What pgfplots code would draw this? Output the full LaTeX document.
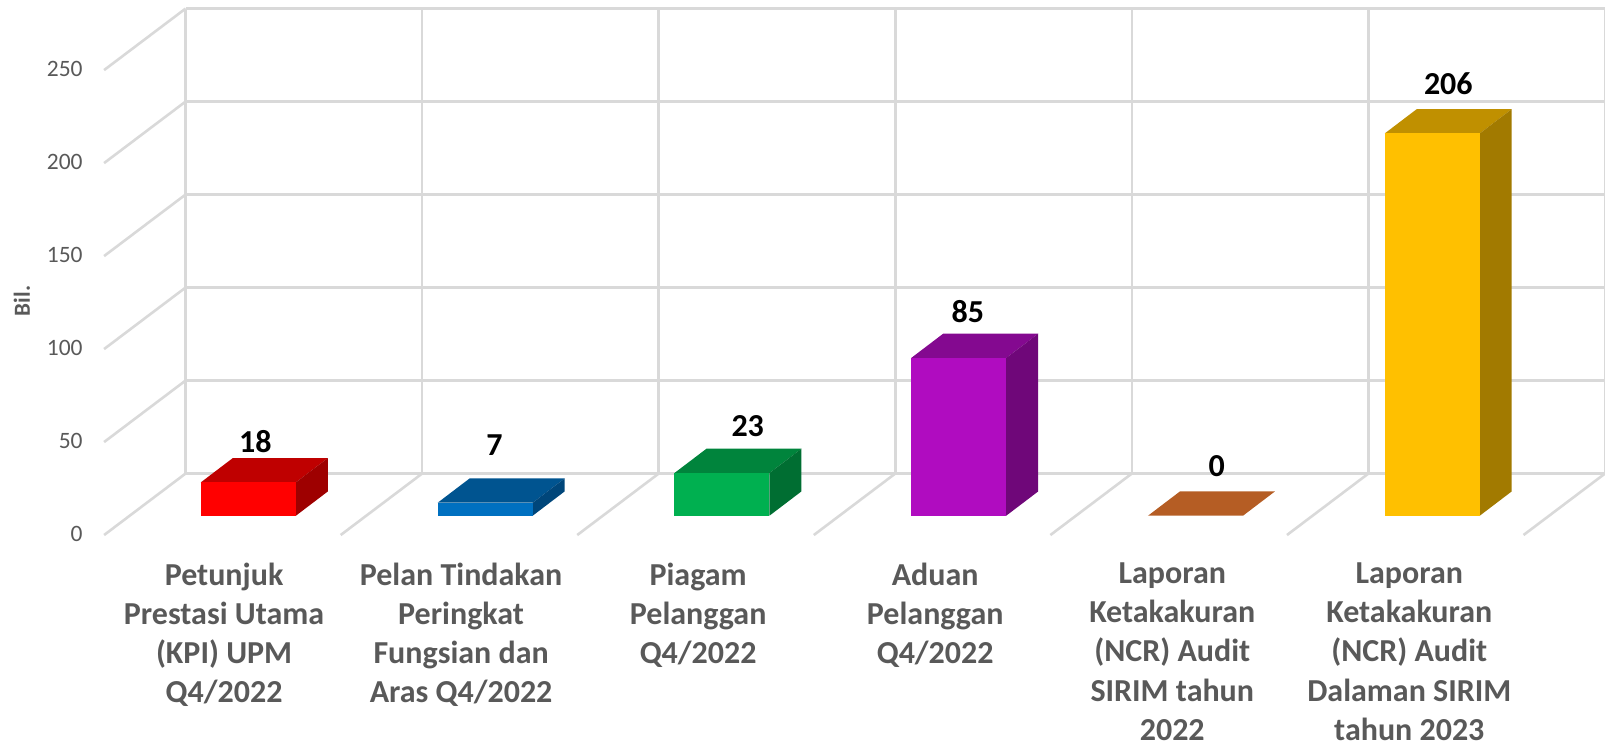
\documentclass[border=0pt]{standalone}
\usepackage{fontspec}
\setmainfont{Carlito}
\usepackage{pgfplots}
\pgfplotsset{compat=1.18}
\definecolor{gridc}{HTML}{D9D9D9}
\definecolor{txtc}{HTML}{595959}
\definecolor{rF}{HTML}{FF0000}\definecolor{rT}{HTML}{BF0000}\definecolor{rS}{HTML}{9E0000}
\definecolor{bF}{HTML}{0070C0}\definecolor{bT}{HTML}{005490}\definecolor{bS}{HTML}{00467A}
\definecolor{gF}{HTML}{00B050}\definecolor{gT}{HTML}{00843C}\definecolor{gS}{HTML}{006E32}
\definecolor{pF}{HTML}{B00CC0}\definecolor{pT}{HTML}{840990}\definecolor{pS}{HTML}{6F0779}
\definecolor{oT}{HTML}{B55D24}
\definecolor{yF}{HTML}{FFC000}\definecolor{yT}{HTML}{C09000}\definecolor{yS}{HTML}{A27A00}
\pgfplotsset{base/.style={at={(0,0)},anchor=south west,scale only axis,width=1605bp,height=745bp},
  gl/.style={draw=gridc,line width=2.6bp,mark=none,forget plot},
  bfront/.style={ybar,bar width=95bp,bar shift=0pt,draw=none,fill=#1,forget plot},
  poly/.style={draw=none,fill=#1,mark=none,forget plot}}
\begin{document}
\begin{tikzpicture}
% ---- walls, floor and tick labels: front plane of the depth box
\begin{axis}[base,xmin=-1.0524,xmax=5.7312,ymin=-112.9,ymax=287.63,
  axis line style={draw=none},major tick length=0pt,
  ytick={0,50,100,150,200,250},
  /pgf/number format/assume math mode=true,
  yticklabel style={anchor=east,xshift=86bp,yshift=1bp,text=txtc,font=\fontsize{23.5bp}{27bp}\selectfont},
  xtick={-0.1057,0.8963,1.8983,2.9003,3.9023,4.9043},
  xticklabels={{Petunjuk\\Prestasi Utama\\(KPI) UPM\\Q4/2022},
    {Pelan Tindakan\\Peringkat\\Fungsian dan\\Aras Q4/2022},
    {Piagam\\Pelanggan\\Q4/2022},
    {Aduan\\Pelanggan\\Q4/2022},
    {Laporan\\Ketakakuran\\(NCR) Audit\\SIRIM tahun\\2022},
    {Laporan\\Ketakakuran\\(NCR) Audit\\Dalaman SIRIM\\tahun 2023}},
  xticklabel style={anchor=north,align=center,inner sep=0pt,yshift=182.5bp,text=txtc,
    font=\fontsize{32bp}{39.2bp}\selectfont\bfseries},
  ylabel={Bil.},
  every axis y label/.style={at={(axis description cs:0.0135,0.596)},rotate=90,anchor=center,
    text=txtc,font=\fontsize{23bp}{27bp}\selectfont\bfseries},
]
% back wall horizontals
\addplot[gl] coordinates {(-0.2684,33.06)(5.8,33.06)};
\addplot[gl] coordinates {(-0.2684,83.06)(5.8,83.06)};
\addplot[gl] coordinates {(-0.2684,133.06)(5.8,133.06)};
\addplot[gl] coordinates {(-0.2684,183.06)(5.8,183.06)};
\addplot[gl] coordinates {(-0.2684,233.06)(5.8,233.06)};
\addplot[gl] coordinates {(-0.2684,283.06)(5.8,283.06)};
% back wall verticals
\addplot[gl] coordinates {(-0.2684,33.06)(-0.2684,283.06)};
\addplot[gl] coordinates {(0.7316,33.06)(0.7316,283.06)};
\addplot[gl] coordinates {(1.7316,33.06)(1.7316,283.06)};
\addplot[gl] coordinates {(2.7316,33.06)(2.7316,283.06)};
\addplot[gl] coordinates {(3.7316,33.06)(3.7316,283.06)};
\addplot[gl] coordinates {(4.7316,33.06)(4.7316,283.06)};
\addplot[gl] coordinates {(5.7316,33.06)(5.7316,283.06)};
% side wall diagonals
\addplot[gl] coordinates {(-0.6128,0)(-0.2684,33.06)};
\addplot[gl] coordinates {(-0.6128,50)(-0.2684,83.06)};
\addplot[gl] coordinates {(-0.6128,100)(-0.2684,133.06)};
\addplot[gl] coordinates {(-0.6128,150)(-0.2684,183.06)};
\addplot[gl] coordinates {(-0.6128,200)(-0.2684,233.06)};
\addplot[gl] coordinates {(-0.6128,250)(-0.2684,283.06)};
% floor diagonals
\addplot[gl] coordinates {(0.3872,0)(0.7316,33.06)};
\addplot[gl] coordinates {(1.3872,0)(1.7316,33.06)};
\addplot[gl] coordinates {(2.3872,0)(2.7316,33.06)};
\addplot[gl] coordinates {(3.3872,0)(3.7316,33.06)};
\addplot[gl] coordinates {(4.3872,0)(4.7316,33.06)};
\addplot[gl] coordinates {(5.3872,0)(5.7316,33.06)};
\end{axis}
% ---- bars
\begin{axis}[base,hide axis,xmin=-1.0486,xmax=5.7293,ymin=-123.54,ymax=277.86,clip=false]
% Petunjuk KPI: 18
\addplot[poly=rT] coordinates {(-0.2006,18)(0.2006,18)(0.3357,31.1)(-0.0655,31.1)} -- cycle;
\addplot[poly=rS] coordinates {(0.2006,0)(0.3357,13.1)(0.3357,31.1)(0.2006,18)} -- cycle;
\addplot[bfront=rF] coordinates {(0,18)};
% Pelan Tindakan: 7
\addplot[poly=bT] coordinates {(0.7994,7)(1.2006,7)(1.3357,20.1)(0.9345,20.1)} -- cycle;
\addplot[poly=bS] coordinates {(1.2006,0)(1.3357,13.1)(1.3357,20.1)(1.2006,7)} -- cycle;
\addplot[bfront=bF] coordinates {(1,7)};
% Piagam: 23
\addplot[poly=gT] coordinates {(1.7994,23)(2.2006,23)(2.3357,36.1)(1.9345,36.1)} -- cycle;
\addplot[poly=gS] coordinates {(2.2006,0)(2.3357,13.1)(2.3357,36.1)(2.2006,23)} -- cycle;
\addplot[bfront=gF] coordinates {(2,23)};
% Aduan: 85
\addplot[poly=pT] coordinates {(2.7994,85)(3.2006,85)(3.3357,98.1)(2.9345,98.1)} -- cycle;
\addplot[poly=pS] coordinates {(3.2006,0)(3.3357,13.1)(3.3357,98.1)(3.2006,85)} -- cycle;
\addplot[bfront=pF] coordinates {(3,85)};
% NCR SIRIM 2022: 0
\addplot[poly=oT] coordinates {(3.7994,0)(4.2006,0)(4.3357,13.1)(3.9345,13.1)} -- cycle;
% NCR Dalaman 2023: 206
\addplot[poly=yT] coordinates {(4.7994,206)(5.2006,206)(5.3357,219.1)(4.9345,219.1)} -- cycle;
\addplot[poly=yS] coordinates {(5.2006,0)(5.3357,13.1)(5.3357,219.1)(5.2006,206)} -- cycle;
\addplot[bfront=yF] coordinates {(5,206)};
% data labels
\node[font=\fontsize{32bp}{36bp}\selectfont\bfseries] at (axis cs:0.0296,40.2) {18};
\node[font=\fontsize{32bp}{36bp}\selectfont\bfseries] at (axis cs:1.0397,37.9) {7};
\node[font=\fontsize{32bp}{36bp}\selectfont\bfseries] at (axis cs:2.109,48.3) {23};
\node[font=\fontsize{32bp}{36bp}\selectfont\bfseries] at (axis cs:3.039,109.8) {85};
\node[font=\fontsize{32bp}{36bp}\selectfont\bfseries] at (axis cs:4.090,26.8) {0};
\node[font=\fontsize{32bp}{36bp}\selectfont\bfseries] at (axis cs:5.068,232.6) {206};
\end{axis}
\end{tikzpicture}
\end{document}
